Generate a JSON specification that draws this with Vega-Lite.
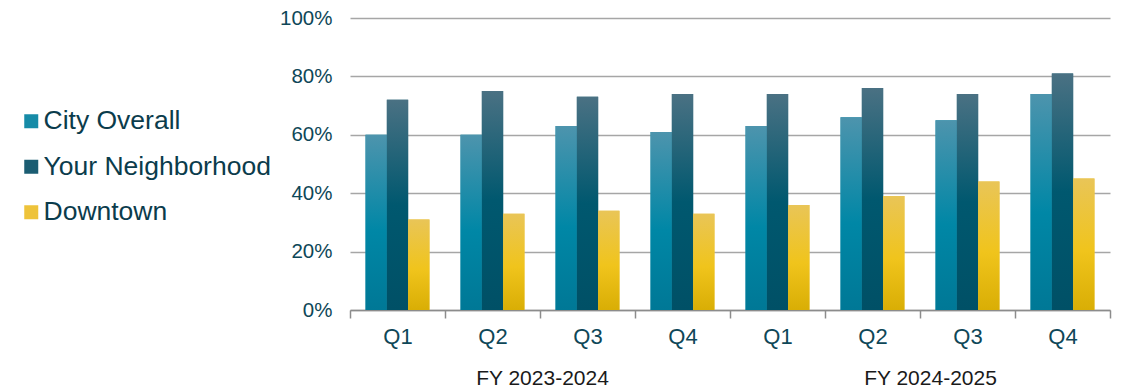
{
  "$schema": "https://vega.github.io/schema/vega-lite/v6.json",
  "width": 760,
  "height": 292,
  "padding": {"left": 18, "top": 8, "right": 10, "bottom": 2},
  "background": "white",
  "config": {"font": "Liberation Sans", "view": {"stroke": null}},
  "datasets": {
    "bars": [
      {"period": "23-24 Q1", "series": "City Overall", "value": 60},
      {"period": "23-24 Q1", "series": "Your Neighborhood", "value": 72},
      {"period": "23-24 Q1", "series": "Downtown", "value": 31},
      {"period": "23-24 Q2", "series": "City Overall", "value": 60},
      {"period": "23-24 Q2", "series": "Your Neighborhood", "value": 75},
      {"period": "23-24 Q2", "series": "Downtown", "value": 33},
      {"period": "23-24 Q3", "series": "City Overall", "value": 63},
      {"period": "23-24 Q3", "series": "Your Neighborhood", "value": 73},
      {"period": "23-24 Q3", "series": "Downtown", "value": 34},
      {"period": "23-24 Q4", "series": "City Overall", "value": 61},
      {"period": "23-24 Q4", "series": "Your Neighborhood", "value": 74},
      {"period": "23-24 Q4", "series": "Downtown", "value": 33},
      {"period": "24-25 Q1", "series": "City Overall", "value": 63},
      {"period": "24-25 Q1", "series": "Your Neighborhood", "value": 74},
      {"period": "24-25 Q1", "series": "Downtown", "value": 36},
      {"period": "24-25 Q2", "series": "City Overall", "value": 66},
      {"period": "24-25 Q2", "series": "Your Neighborhood", "value": 76},
      {"period": "24-25 Q2", "series": "Downtown", "value": 39},
      {"period": "24-25 Q3", "series": "City Overall", "value": 65},
      {"period": "24-25 Q3", "series": "Your Neighborhood", "value": 74},
      {"period": "24-25 Q3", "series": "Downtown", "value": 44},
      {"period": "24-25 Q4", "series": "City Overall", "value": 74},
      {"period": "24-25 Q4", "series": "Your Neighborhood", "value": 81},
      {"period": "24-25 Q4", "series": "Downtown", "value": 45}
    ],
    "fy": [
      {"fy": "FY 2023-2024"},
      {"fy": "FY 2024-2025"}
    ]
  },
  "layer": [
    {
      "data": {"name": "bars"},
      "encoding": {
        "x": {
          "field": "period",
          "type": "nominal",
          "sort": null,
          "scale": {"paddingInner": 0, "paddingOuter": 0},
          "axis": {
            "title": null,
            "labelExpr": "slice(datum.label, -2)",
            "labelAngle": 0,
            "labelFontSize": 22,
            "labelColor": "#0e4758",
            "labelPadding": 8,
            "tickBand": "extent",
            "tickSize": 8,
            "tickColor": "#8c8c8c",
            "tickWidth": 1.5,
            "domainColor": "#8c8c8c",
            "domainWidth": 1.5,
            "grid": false
          }
        },
        "xOffset": {
          "field": "series",
          "type": "nominal",
          "sort": ["City Overall", "Your Neighborhood", "Downtown"],
          "scale": {"domain": ["City Overall", "Your Neighborhood", "Downtown"], "paddingInner": 0, "paddingOuter": 0.73}
        },
        "y": {
          "field": "value",
          "type": "quantitative",
          "scale": {"domain": [0, 100]},
          "axis": {
            "title": null,
            "values": [0, 20, 40, 60, 80, 100],
            "labelExpr": "datum.value + '%'",
            "labelFontSize": 20.5,
            "labelColor": "#0e4758",
            "labelPadding": 18,
            "ticks": false,
            "domain": false,
            "gridColor": "#a6a6a6",
            "gridWidth": 1.5
          }
        }
      },
      "layer": [
        {
          "mark": {"type": "bar"},
          "encoding": {
            "color": {
              "field": "series",
              "type": "nominal",
              "sort": ["City Overall", "Your Neighborhood", "Downtown"],
              "scale": {
                "domain": ["City Overall", "Your Neighborhood", "Downtown"],
                "range": ["#168ba7", "#1b5d72", "#eec33a"]
              },
              "legend": {
                "title": null,
                "orient": "none",
                "legendX": -332,
                "legendY": 90,
                "symbolType": "square",
                "symbolSize": 196,
                "symbolStrokeWidth": 0,
                "labelFontSize": 26.5,
                "labelColor": "#0b3c4c",
                "labelOffset": -1,
                "rowPadding": 18.5,
                "labelLimit": 400
              }
            }
          }
        },
        {
          "transform": [{"filter": "datum.series == 'City Overall'"}],
          "mark": {"type": "bar", "color": {"gradient": "linear", "x1": 0, "y1": 0, "x2": 0, "y2": 1, "stops": [
            {"offset": 0, "color": "#4d94ad"},
            {"offset": 0.55, "color": "#0087a6"},
            {"offset": 1, "color": "#007896"}
          ]}}
        },
        {
          "transform": [{"filter": "datum.series == 'Your Neighborhood'"}],
          "mark": {"type": "bar", "color": {"gradient": "linear", "x1": 0, "y1": 0, "x2": 0, "y2": 1, "stops": [
            {"offset": 0, "color": "#4a7183"},
            {"offset": 0.5, "color": "#00586f"},
            {"offset": 1, "color": "#005066"}
          ]}}
        },
        {
          "transform": [{"filter": "datum.series == 'Downtown'"}],
          "mark": {"type": "bar", "color": {"gradient": "linear", "x1": 0, "y1": 0, "x2": 0, "y2": 1, "stops": [
            {"offset": 0, "color": "#e9c557"},
            {"offset": 0.55, "color": "#f0c41c"},
            {"offset": 1, "color": "#d9ae05"}
          ]}}
        }
      ]
    },
    {
      "data": {"name": "fy"},
      "mark": {"type": "text", "text": " ", "opacity": 0},
      "encoding": {
        "x": {
          "field": "fy",
          "type": "nominal",
          "scale": {"paddingInner": 0, "paddingOuter": 0},
          "axis": {
            "title": null,
            "orient": "bottom",
            "labelAngle": 0,
            "labelFontSize": 21,
            "labelColor": "#1a1a1a",
            "labelPadding": 57,
            "labelOffset": {"condition": {"test": "datum.value == 'FY 2024-2025'", "value": 10}, "value": 2},
            "ticks": false,
            "domain": false,
            "grid": false
          }
        }
      }
    }
  ],
  "resolve": {"scale": {"x": "independent"}, "axis": {"x": "independent"}}
}
